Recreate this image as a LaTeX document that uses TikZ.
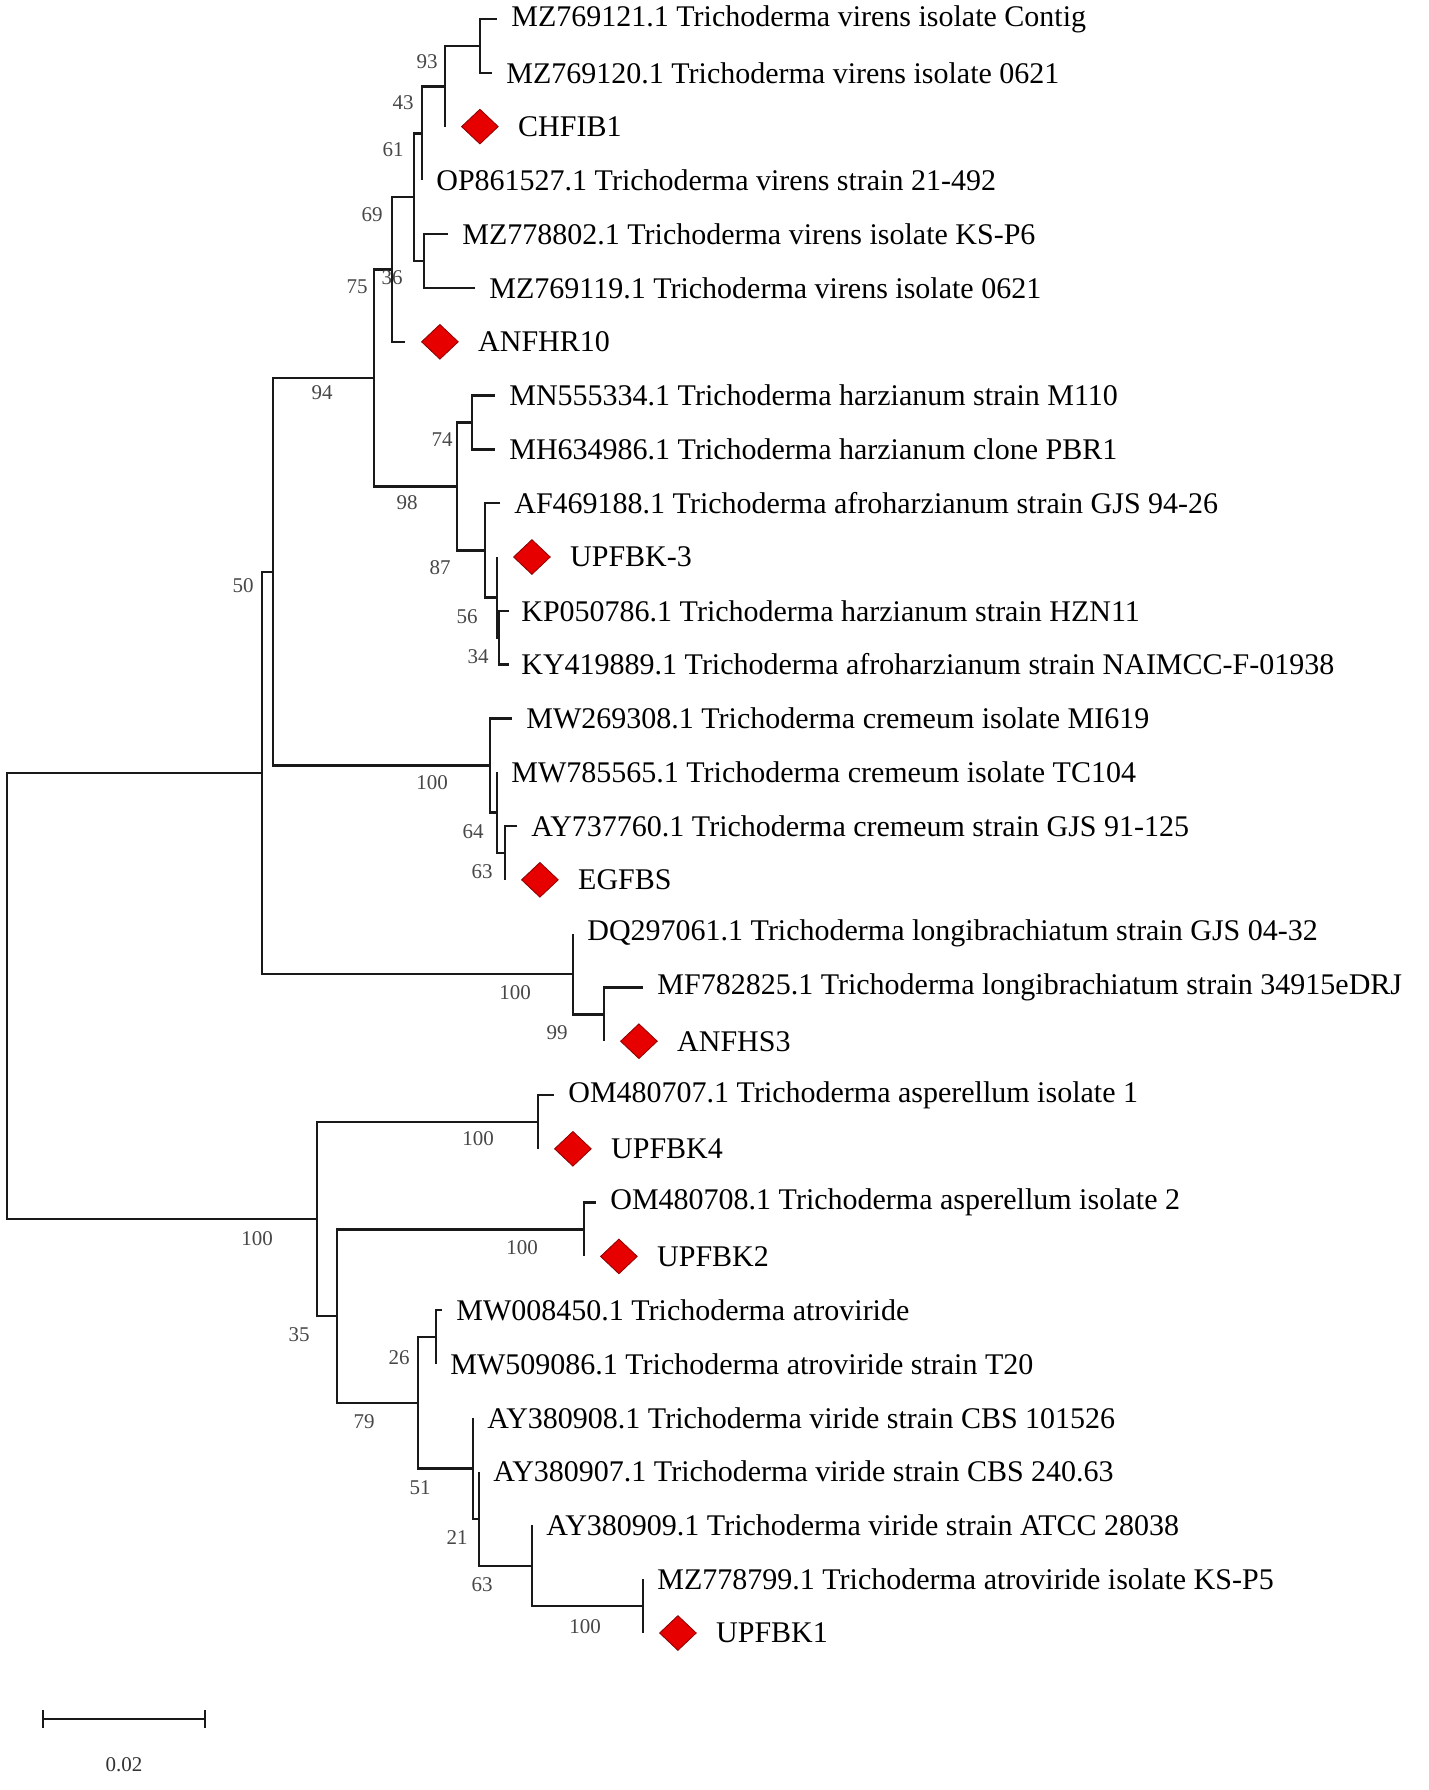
\documentclass[tikz,border=0pt]{standalone}
\usepackage{fontspec}
\setmainfont{Liberation Serif}
\usetikzlibrary{positioning, shapes.geometric}
\definecolor{colour_iso}{HTML}{E60000}
\colorlet{colour_isoedge}{red!55!black}
\colorlet{colour_boot}{black!72}

\begin{document}
\begin{tikzpicture}
   [
      x=0.5pt, y=-0.5pt,
      branch/.style={line width=1.2pt, black!90},
      taxon/.style={inner sep=0pt, anchor=west, font=\fontsize{15}{15}\selectfont},
      isolate/.style={diamond, fill=colour_iso, draw=colour_isoedge, line width=0.4pt,
                      minimum width=18.5pt, minimum height=17.5pt, inner sep=0pt},
      boot/.style={inner sep=0pt, text=colour_boot, font=\fontsize{10.5}{10.5}\selectfont},
   ]
   \useasboundingbox (0,0) rectangle (1429,1790);

   % =======================================================
   % Tips (end of each terminal branch)
   % =======================================================

   \coordinate (tip_MZ769121) at (497,19);
   \coordinate (tip_MZ769120) at (492,72.8);
   \coordinate (tip_CHFIB1) at (445,126.6);
   \coordinate (tip_OP861527) at (422,180.4);
   \coordinate (tip_MZ778802) at (448,234.2);
   \coordinate (tip_MZ769119) at (475,288);
   \coordinate (tip_ANFHR10) at (405,341.8);
   \coordinate (tip_MN555334) at (495,395.6);
   \coordinate (tip_MH634986) at (495,449.4);
   \coordinate (tip_AF469188) at (500,503.2);
   \coordinate (tip_UPFBK3) at (497,557);
   \coordinate (tip_KP050786) at (509,610.8);
   \coordinate (tip_KY419889) at (509,664.6);
   \coordinate (tip_MW269308) at (512,718.4);
   \coordinate (tip_MW785565) at (497,772.2);
   \coordinate (tip_AY737760) at (517,826);
   \coordinate (tip_EGFBS) at (505,879.8);
   \coordinate (tip_DQ297061) at (573,933.6);
   \coordinate (tip_MF782825) at (643,987.4);
   \coordinate (tip_ANFHS3) at (604,1041.2);
   \coordinate (tip_OM480707) at (554,1095);
   \coordinate (tip_UPFBK4) at (538,1148.8);
   \coordinate (tip_OM480708) at (596,1202.6);
   \coordinate (tip_UPFBK2) at (584,1256.4);
   \coordinate (tip_MW008450) at (442,1310.2);
   \coordinate (tip_MW509086) at (436,1364);
   \coordinate (tip_AY380908) at (473,1417.8);
   \coordinate (tip_AY380907) at (479,1471.6);
   \coordinate (tip_AY380909) at (532,1525.4);
   \coordinate (tip_MZ778799) at (643,1579.2);
   \coordinate (tip_UPFBK1) at (643,1633);

   % =======================================================
   % Internal nodes
   % =======================================================

   \coordinate (n_A) at (480,45.9);
   \coordinate (n_B) at (445,86.3);
   \coordinate (n_C) at (422,133.3);
   \coordinate (n_E) at (424,261.1);
   \coordinate (n_D) at (414,197.2);
   \coordinate (n_F) at (392,269.5);
   \coordinate (n_I) at (472,422.5);
   \coordinate (n_L) at (499,637.7);
   \coordinate (n_K) at (497,597.4);
   \coordinate (n_J) at (485,550.3);
   \coordinate (n_H) at (457,486.4);
   \coordinate (n_G) at (374,378);
   \coordinate (n_Q) at (505,852.9);
   \coordinate (n_P) at (497,812.6);
   \coordinate (n_O) at (490,765.5);
   \coordinate (n_M) at (273,571.7);
   \coordinate (n_S) at (604,1014.3);
   \coordinate (n_R) at (573,974);
   \coordinate (n_N) at (262,772.9);
   \coordinate (n_U) at (538,1121.9);
   \coordinate (n_W) at (584,1229.5);
   \coordinate (n_Y) at (436,1337.1);
   \coordinate (n_AC) at (643,1606.1);
   \coordinate (n_AB) at (532,1565.8);
   \coordinate (n_AA) at (479,1518.7);
   \coordinate (n_Z) at (473,1468.3);
   \coordinate (n_X) at (418,1402.7);
   \coordinate (n_V) at (337,1316.1);
   \coordinate (n_T) at (317,1219);
   \coordinate (root) at (7,996);

   % =======================================================
   % Branches
   % =======================================================

   % virens group
   \draw[branch] (n_A) |- (tip_MZ769121);
   \draw[branch] (n_A) |- (tip_MZ769120);
   \draw[branch] (n_B) |- (n_A);
   \draw[branch] (n_B) |- (tip_CHFIB1);
   \draw[branch] (n_C) |- (n_B);
   \draw[branch] (n_C) |- (tip_OP861527);
   \draw[branch] (n_E) |- (tip_MZ778802);
   \draw[branch] (n_E) |- (tip_MZ769119);
   \draw[branch] (n_D) |- (n_C);
   \draw[branch] (n_D) |- (n_E);
   \draw[branch] (n_F) |- (n_D);
   \draw[branch] (n_F) |- (tip_ANFHR10);

   % harzianum group
   \draw[branch] (n_I) |- (tip_MN555334);
   \draw[branch] (n_I) |- (tip_MH634986);
   \draw[branch] (n_L) |- (tip_KP050786);
   \draw[branch] (n_L) |- (tip_KY419889);
   \draw[branch] (n_K) |- (tip_UPFBK3);
   \draw[branch] (n_K) |- (n_L);
   \draw[branch] (n_J) |- (tip_AF469188);
   \draw[branch] (n_J) |- (n_K);
   \draw[branch] (n_H) |- (n_I);
   \draw[branch] (n_H) |- (n_J);
   \draw[branch] (n_G) |- (n_F);
   \draw[branch] (n_G) |- (n_H);

   % cremeum group
   \draw[branch] (n_Q) |- (tip_AY737760);
   \draw[branch] (n_Q) |- (tip_EGFBS);
   \draw[branch] (n_P) |- (tip_MW785565);
   \draw[branch] (n_P) |- (n_Q);
   \draw[branch] (n_O) |- (tip_MW269308);
   \draw[branch] (n_O) |- (n_P);
   \draw[branch] (n_M) |- (n_G);
   \draw[branch] (n_M) |- (n_O);

   % longibrachiatum group
   \draw[branch] (n_S) |- (tip_MF782825);
   \draw[branch] (n_S) |- (tip_ANFHS3);
   \draw[branch] (n_R) |- (tip_DQ297061);
   \draw[branch] (n_R) |- (n_S);
   \draw[branch] (n_N) |- (n_M);
   \draw[branch] (n_N) |- (n_R);

   % asperellum / atroviride / viride group
   \draw[branch] (n_U) |- (tip_OM480707);
   \draw[branch] (n_U) |- (tip_UPFBK4);
   \draw[branch] (n_W) |- (tip_OM480708);
   \draw[branch] (n_W) |- (tip_UPFBK2);
   \draw[branch] (n_Y) |- (tip_MW008450);
   \draw[branch] (n_Y) |- (tip_MW509086);
   \draw[branch] (n_AC) |- (tip_MZ778799);
   \draw[branch] (n_AC) |- (tip_UPFBK1);
   \draw[branch] (n_AB) |- (tip_AY380909);
   \draw[branch] (n_AB) |- (n_AC);
   \draw[branch] (n_AA) |- (tip_AY380907);
   \draw[branch] (n_AA) |- (n_AB);
   \draw[branch] (n_Z) |- (tip_AY380908);
   \draw[branch] (n_Z) |- (n_AA);
   \draw[branch] (n_X) |- (n_Y);
   \draw[branch] (n_X) |- (n_Z);
   \draw[branch] (n_V) |- (n_W);
   \draw[branch] (n_V) |- (n_X);
   \draw[branch] (n_T) |- (n_U);
   \draw[branch] (n_T) |- (n_V);

   % root
   \draw[branch] (root) |- (n_N);
   \draw[branch] (root) |- (n_T);

   % =======================================================
   % Taxon labels
   % =======================================================

   \node[taxon, right=7pt of tip_MZ769121] (MZ769121) {MZ769121.1 Trichoderma virens isolate Contig};
   \node[taxon, right=7pt of tip_MZ769120] (MZ769120) {MZ769120.1 Trichoderma virens isolate 0621};
   \node[isolate, right=8pt of tip_CHFIB1] (d_CHFIB1) {};
   \node[taxon, right=9.5pt of d_CHFIB1] (CHFIB1) {CHFIB1};
   \node[taxon, right=7pt of tip_OP861527] (OP861527) {OP861527.1 Trichoderma virens strain 21-492};
   \node[taxon, right=7pt of tip_MZ778802] (MZ778802) {MZ778802.1 Trichoderma virens isolate KS-P6};
   \node[taxon, right=7pt of tip_MZ769119] (MZ769119) {MZ769119.1 Trichoderma virens isolate 0621};
   \node[isolate, right=8pt of tip_ANFHR10] (d_ANFHR10) {};
   \node[taxon, right=9.5pt of d_ANFHR10] (ANFHR10) {ANFHR10};
   \node[taxon, right=7pt of tip_MN555334] (MN555334) {MN555334.1 Trichoderma harzianum strain M110};
   \node[taxon, right=7pt of tip_MH634986] (MH634986) {MH634986.1 Trichoderma harzianum clone PBR1};
   \node[taxon, right=7pt of tip_AF469188] (AF469188) {AF469188.1 Trichoderma afroharzianum strain GJS 94-26};
   \node[isolate, right=8pt of tip_UPFBK3] (d_UPFBK3) {};
   \node[taxon, right=9.5pt of d_UPFBK3] (UPFBK3) {UPFBK-3};
   \node[taxon, right=6pt of tip_KP050786] (KP050786) {KP050786.1 Trichoderma harzianum strain HZN11};
   \node[taxon, right=6pt of tip_KY419889] (KY419889) {KY419889.1 Trichoderma afroharzianum strain NAIMCC-F-01938};
   \node[taxon, right=7pt of tip_MW269308] (MW269308) {MW269308.1 Trichoderma cremeum isolate MI619};
   \node[taxon, right=7pt of tip_MW785565] (MW785565) {MW785565.1 Trichoderma cremeum isolate TC104};
   \node[taxon, right=7pt of tip_AY737760] (AY737760) {AY737760.1 Trichoderma cremeum strain GJS 91-125};
   \node[isolate, right=8pt of tip_EGFBS] (d_EGFBS) {};
   \node[taxon, right=9.5pt of d_EGFBS] (EGFBS) {EGFBS};
   \node[taxon, right=7pt of tip_DQ297061] (DQ297061) {DQ297061.1 Trichoderma longibrachiatum strain GJS 04-32};
   \node[taxon, right=7pt of tip_MF782825] (MF782825) {MF782825.1 Trichoderma longibrachiatum strain 34915eDRJ};
   \node[isolate, right=8pt of tip_ANFHS3] (d_ANFHS3) {};
   \node[taxon, right=9.5pt of d_ANFHS3] (ANFHS3) {ANFHS3};
   \node[taxon, right=7pt of tip_OM480707] (OM480707) {OM480707.1 Trichoderma asperellum isolate 1};
   \node[isolate, right=8pt of tip_UPFBK4] (d_UPFBK4) {};
   \node[taxon, right=9.5pt of d_UPFBK4] (UPFBK4) {UPFBK4};
   \node[taxon, right=7pt of tip_OM480708] (OM480708) {OM480708.1 Trichoderma asperellum isolate 2};
   \node[isolate, right=8pt of tip_UPFBK2] (d_UPFBK2) {};
   \node[taxon, right=9.5pt of d_UPFBK2] (UPFBK2) {UPFBK2};
   \node[taxon, right=7pt of tip_MW008450] (MW008450) {MW008450.1 Trichoderma atroviride};
   \node[taxon, right=7pt of tip_MW509086] (MW509086) {MW509086.1 Trichoderma atroviride strain T20};
   \node[taxon, right=7pt of tip_AY380908] (AY380908) {AY380908.1 Trichoderma viride strain CBS 101526};
   \node[taxon, right=7pt of tip_AY380907] (AY380907) {AY380907.1 Trichoderma viride strain CBS 240.63};
   \node[taxon, right=7pt of tip_AY380909] (AY380909) {AY380909.1 Trichoderma viride strain ATCC 28038};
   \node[taxon, right=7pt of tip_MZ778799] (MZ778799) {MZ778799.1 Trichoderma atroviride isolate KS-P5};
   \node[isolate, right=8pt of tip_UPFBK1] (d_UPFBK1) {};
   \node[taxon, right=9.5pt of d_UPFBK1] (UPFBK1) {UPFBK1};

   % =======================================================
   % Bootstrap values
   % =======================================================

   \node[boot] (b_A) at (427,62) {93};
   \node[boot] (b_B) at (403,103) {43};
   \node[boot] (b_C) at (393,150) {61};
   \node[boot] (b_D) at (372,215) {69};
   \node[boot] (b_E) at (392,278) {36};
   \node[boot] (b_F) at (357,287) {75};
   \node[boot] (b_G) at (322,393) {94};
   \node[boot] (b_I) at (442,440) {74};
   \node[boot] (b_H) at (407,503) {98};
   \node[boot] (b_J) at (440,568) {87};
   \node[boot] (b_K) at (467,617) {56};
   \node[boot] (b_L) at (478,657) {34};
   \node[boot] (b_M) at (243,586) {50};
   \node[boot] (b_O) at (432,783) {100};
   \node[boot] (b_P) at (473,832) {64};
   \node[boot] (b_Q) at (482,872) {63};
   \node[boot] (b_R) at (515,993) {100};
   \node[boot] (b_S) at (557,1033) {99};
   \node[boot] (b_T) at (257,1239) {100};
   \node[boot] (b_U) at (478,1139) {100};
   \node[boot] (b_V) at (299,1335) {35};
   \node[boot] (b_W) at (522,1248) {100};
   \node[boot] (b_X) at (364,1422) {79};
   \node[boot] (b_Y) at (399,1358) {26};
   \node[boot] (b_Z) at (420,1488) {51};
   \node[boot] (b_AA) at (457,1538) {21};
   \node[boot] (b_AB) at (482,1585) {63};
   \node[boot] (b_AC) at (585,1627) {100};

   % =======================================================
   % Scale bar
   % =======================================================

   \coordinate (bar_l) at (43,1719);
   \coordinate (bar_r) at (205,1719);
   \draw[branch] (bar_l) -- (bar_r);
   \draw[branch] ([yshift=4.5pt]bar_l) -- ([yshift=-4.5pt]bar_l);
   \draw[branch] ([yshift=4.5pt]bar_r) -- ([yshift=-4.5pt]bar_r);
   \node[boot, text=black!80] (bar_txt) at (124,1765) {0.02};

\end{tikzpicture}
\end{document}
